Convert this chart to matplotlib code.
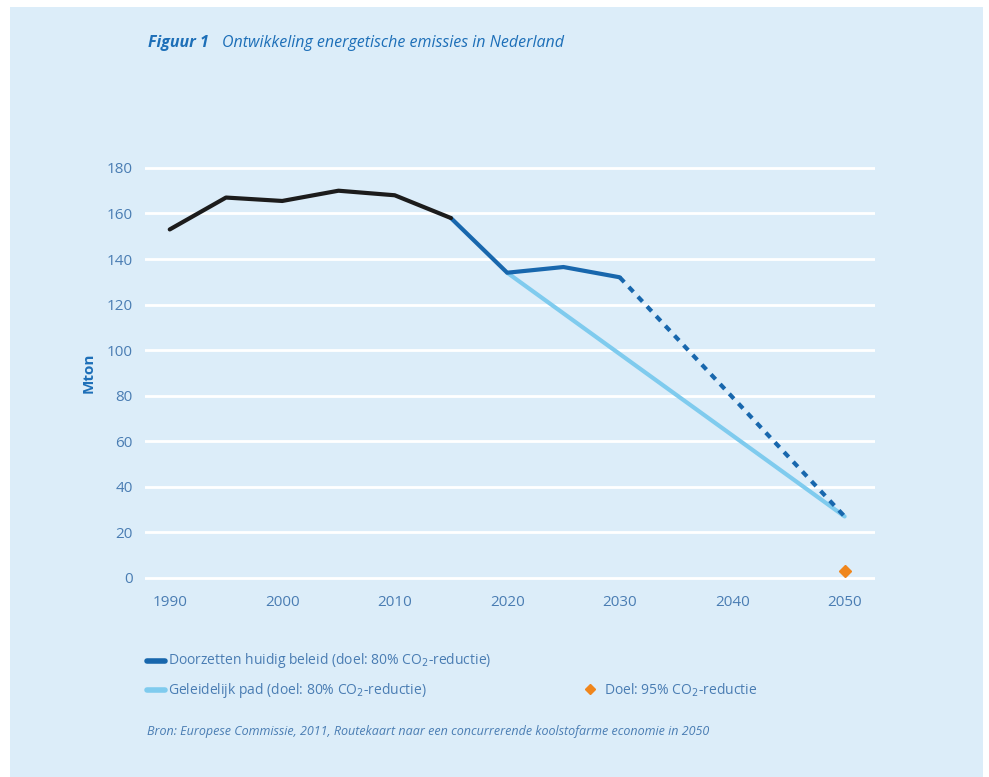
import matplotlib.pyplot as plt
from matplotlib.lines import Line2D
from matplotlib.patches import Rectangle

# data (Mton)
hist_years = [1990, 1995, 2000, 2005, 2010, 2015]
hist_values = [153, 167, 165.5, 170, 168, 158]

beleid_years = [2015, 2020, 2025, 2030]
beleid_values = [158, 134, 136.5, 132]
beleid_dash_years = [2030, 2050]
beleid_dash_values = [132, 27]

geleidelijk_years = [2020, 2050]
geleidelijk_values = [134, 27]

doel_year = [2050]
doel_value = [3]

x_ticks = [1990, 2000, 2010, 2020, 2030, 2040, 2050]
y_ticks = list(range(0, 181, 20))

BG = '#dcedf9'
TXT = '#4a7db3'
TITLE = '#1d6fb8'
BLACK = '#1c1c1c'
DARK = '#1867ad'
LIGHT = '#7fcbee'
ORANGE = '#f0861c'

plt.rcParams['font.family'] = ['Open Sans', 'DejaVu Sans']

W, H = 989, 777
fig = plt.figure(figsize=(W / 100, H / 100), dpi=100, facecolor='white')
fig.patches.append(Rectangle((10 / W, 0), 973 / W, 770 / H, transform=fig.transFigure,
                             facecolor=BG, edgecolor='none', zorder=-10))

ax = fig.add_axes([145 / W, (777 - 584.8) / H, 730 / W, 423.7 / H])
ax.set_facecolor('none')
ax.set_xlim(1987.8, 2052.7)
ax.set_ylim(-3, 183)
for s in ax.spines.values():
    s.set_visible(False)
ax.set_yticks(y_ticks)
ax.set_xticks(x_ticks)
ax.tick_params(length=0, labelsize=11, colors=TXT)
ax.tick_params(axis='y', pad=9)
ax.tick_params(axis='x', pad=7)
ax.yaxis.grid(True, color='white', linewidth=2)
ax.set_axisbelow(True)
ax.set_ylabel('Mton', color=TITLE, fontsize=11, fontweight='bold', labelpad=8)

ax.plot(geleidelijk_years, geleidelijk_values, color=LIGHT, lw=3, solid_capstyle='round', zorder=3)
ax.plot(beleid_dash_years, beleid_dash_values, color=DARK, lw=3, dashes=(1.6, 1.6), zorder=4)
ax.plot(beleid_years, beleid_values, color=DARK, lw=3, solid_capstyle='round', zorder=4)
ax.plot(hist_years, hist_values, color=BLACK, lw=3, solid_capstyle='round', zorder=5)
ax.plot(doel_year, doel_value, 'D', color=ORANGE, ms=6, zorder=5)

# title
fig.text(148 / W, 1 - 43 / H, 'Figuur 1', color=TITLE, fontsize=11.5, fontweight='bold',
         fontstyle='italic', va='center')
fig.text(222 / W, 1 - 43 / H, 'Ontwikkeling energetische emissies in Nederland', color=TITLE,
         fontsize=11.5, fontstyle='italic', va='center')

# legend
def swatch(x0, y, color):
    fig.add_artist(Line2D([x0 / W, (x0 + 18) / W], [1 - y / H, 1 - y / H], color=color, lw=4,
                          solid_capstyle='round', transform=fig.transFigure))

swatch(147, 661, DARK)
fig.text(168 / W, 1 - 661 / H, 'Doorzetten huidig beleid (doel: 80% CO$_2$-reductie)',
         color=TXT, fontsize=10, va='center')
swatch(147, 690, LIGHT)
fig.text(168 / W, 1 - 690 / H, 'Geleidelijk pad (doel: 80% CO$_2$-reductie)',
         color=TXT, fontsize=10, va='center')
fig.add_artist(Line2D([590 / W], [1 - 689 / H], marker='D', color=ORANGE, ms=5,
                      transform=fig.transFigure))
fig.text(604 / W, 1 - 690 / H, 'Doel: 95% CO$_2$-reductie', color=TXT, fontsize=10, va='center')

fig.text(147 / W, 1 - 731 / H,
         'Bron: Europese Commissie, 2011, Routekaart naar een concurrerende koolstofarme economie in 2050',
         color=TXT, fontsize=9, fontstyle='italic', va='center')

fig.savefig('out.png', dpi=100, facecolor='white')
